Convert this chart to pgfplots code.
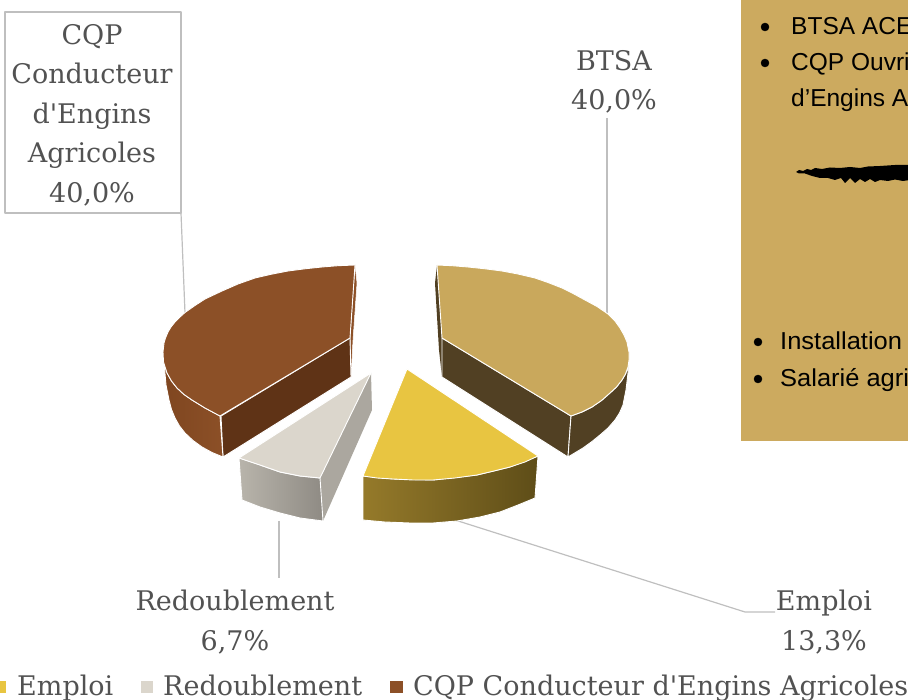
\documentclass[border=0pt]{standalone}
\usepackage{pgfplots}
\pgfplotsset{compat=1.18}
\usepackage{fontspec}
\setmainfont{Liberation Sans}
\newfontfamily\wider[FakeStretch=1.04]{Liberation Sans}
\newfontfamily\slab[FakeStretch=1.0]{DejaVu Serif}
\definecolor{lab}{HTML}{525252}
\definecolor{lead}{HTML}{BFBFBF}
\definecolor{panel}{HTML}{CCAA5F}
\definecolor{goldtop}{HTML}{C9A85C}
\definecolor{golddark}{HTML}{514023}
\definecolor{yel}{HTML}{E8C541}
\definecolor{yelA}{HTML}{957A2A}
\definecolor{yelB}{HTML}{5E4D18}
\definecolor{gry}{HTML}{DBD6CC}
\definecolor{gryA}{HTML}{B8B4AB}
\definecolor{gryB}{HTML}{8F8B84}
\definecolor{gryC}{HTML}{ABA79F}
\definecolor{brn}{HTML}{8C5027}
\definecolor{brnA}{HTML}{7F4620}
\definecolor{brndark}{HTML}{5F3316}
\tikzset{lbl/.style={font=\slab\fontsize{27}{39.5}\selectfont,text=lab,align=center,inner sep=0pt,anchor=center},
 txt/.style={font=\fontsize{24.5}{28}\selectfont,text=black,inner sep=0pt,anchor=base west}}
\begin{document}
\begin{tikzpicture}[line join=round]
\path[use as bounding box,clip] (0,0) rectangle (908pt,700pt);
\begin{axis}[at={(0,0)},anchor=south west,scale only axis,width=908pt,height=700pt,
  xmin=0,xmax=908,ymin=0,ymax=700,y dir=reverse,axis lines=none,clip=true]
% panel
\addplot[fill=panel,draw=none] coordinates {(741,-2)(910,-2)(910,441)(741,441)} --cycle;
% brush
\addplot[fill=black,draw=none] coordinates {(796,172)(799,170)(803,171)(807,169)(811,170)(815,168)(822,169)(830,167.5)(840,168)(850,167)(860,168)(868,166.5)(880,166)(895,165)(910,165)(910,180)(903,181)(895,179.5)(888,181)(880,180)(875,182)(870,179)(865,182)(860,179)(855,183)(850,178)(845,183)(841,178)(835,180)(828,178)(820,178)(812,176)(805,173.5)(799,173.5)} --cycle;
% bullets
\addplot[only marks,mark=*,mark size=4pt,mark options={fill=black,draw=none}] coordinates {(765,27)(765,63)(758,342)(758,379)};
% leaders
\addplot[lead,line width=1.2pt] coordinates {(607,118)(607,313)};
\addplot[lead,line width=1.2pt] coordinates {(181,213)(185,313)};
\addplot[lead,line width=1.2pt] coordinates {(279,521)(279,578)};
\addplot[lead,line width=1.2pt] coordinates {(455,520)(745,612)(775,612)};
\addplot[fill=white,draw=lead,line width=1.2pt] coordinates {(5,12)(181,12)(181,213)(5,213)} --cycle;
% brown slice
\addplot[fill=brn,draw=white,line width=.5pt] coordinates {(355,265)(350,338)(351,377)(353,340)(357,283)} --cycle;
\addplot[fill=brndark,draw=white,line width=.9pt] coordinates {(221,416)(350,338)(351,377)(223,457)} --cycle;
\addplot[left color=brnA,right color=brn,draw=white,line width=.9pt] coordinates {(164,362)(166,385)(169,400)(171.5,409.5)(175,418)(179.5,426)(185,433)(193,440.5)(202,447)(212,452.5)(223,457)(220,416)(205,408)(192,400)(184,394.5)(177,388)(171.5,381)(167,373)} --cycle;
\addplot[fill=brn,draw=white,line width=.9pt] coordinates {(355,265)(338,265.7)(322,267)(305,268.8)(288,271)(271,274.3)(255,278)(238,284)(222,291)(205,299)(195,305.5)(185,312.5)(180,317)(175,322)(171,327)(168,332)(165.5,338)(164,343)(163,352)(163.5,362)(167,373)(171.5,381)(177,388)(184,394.5)(192,400)(205,408)(220,416)(350,338)} --cycle;
% gold slice
\addplot[fill=golddark,draw=none] coordinates {(437,265)(435,283)(439,350)(442,377)(442,338)} --cycle;
\addplot[fill=golddark,draw=white,line width=.9pt] coordinates {(442,338)(571,416)(568,457)(442,377)} --cycle;
\addplot[fill=golddark,draw=white,line width=.9pt] coordinates {(571,416)(582,412)(592,407)(601.5,400.5)(610,393)(616.5,387)(622,380)(625.5,374)(628,367)(628,373)(626,390)(623,405)(619.5,413)(615,420)(608,428)(600,435)(592,441.5)(583,448)(568,457)} --cycle;
\addplot[fill=goldtop,draw=white,line width=.9pt] coordinates {(437,265)(452,265.7)(468,267)(485,268.8)(502,271)(518,274)(535,278)(548,282.5)(562,288)(574,294)(585,300)(597,306.5)(608,314)(615,321)(620,328)(624,335)(627,342)(629,352)(629,360)(628,367)(625.5,374)(622,380)(616.5,387)(610,393)(601.5,400.5)(592,407)(582,412)(571,416)(442,338)} --cycle;
% yellow slice
\addplot[left color=yelA,right color=yelB,draw=white,line width=.9pt] coordinates {(538,456)(535,498)(518,505)(500,512)(480,517)(457,521)(433,523)(410,523)(385,522)(363,520)(363,476)(393,479)(433,480)(477,475)(510,467)} --cycle;
\addplot[fill=yel,draw=white,line width=.9pt] coordinates {(407,369)(538,456)(525,462)(510,467)(494,471)(477,475)(455,478)(433,480)(413,480)(393,479)(377,478)(363,476)} --cycle;
% grey slice
\addplot[fill=gryC,draw=none] coordinates {(371,373)(372,410)(323,521)(320,478)} --cycle;
\addplot[left color=gryA,right color=gryB,draw=white,line width=.9pt] coordinates {(239,458)(242,500)(260,507)(280,513)(300,518)(323,521)(320,478)(300,476)(280,472)(260,465)} --cycle;
\addplot[fill=gry,draw=white,line width=.9pt] coordinates {(371,373)(320,478)(300,476)(280,472)(260,465)(239,458)} --cycle;
% legend swatches
\addplot[fill=yel,draw=none] coordinates {(-5,681)(6,681)(6,693)(-5,693)} --cycle;
\addplot[fill=gry,draw=none] coordinates {(141,681)(153,681)(153,693)(141,693)} --cycle;
\addplot[fill=brn,draw=none] coordinates {(390,681)(403,681)(403,693)(390,693)} --cycle;
% labels
\node[lbl] at (axis cs:92,115) {CQP\\Conducteur\\d'Engins\\Agricoles\\40,0\%};
\node[lbl] at (axis cs:614,82) {BTSA\\40,0\%};
\node[lbl] at (axis cs:235,622) {Redoublement\\6,7\%};
\node[lbl] at (axis cs:824,622) {Emploi\\13,3\%};
\node[lbl,anchor=base west] at (axis cs:17,695) {Emploi};
\node[lbl,anchor=base west] at (axis cs:163,695) {Redoublement};
\node[lbl,anchor=base west] at (axis cs:413,695) {CQP Conducteur d'Engins Agricoles};
\node[txt] at (axis cs:791,35) {BTSA ACE};
\node[txt] at (axis cs:791,71) {CQP Ouvri};
\node[txt] at (axis cs:791,107) {d'Engins A};
\node[txt,font=\wider\fontsize{24.5}{28}\selectfont] at (axis cs:780,350) {Installation};
\node[txt,font=\wider\fontsize{24.5}{28}\selectfont] at (axis cs:780,387) {Salarié agri};
\end{axis}
\end{tikzpicture}
\end{document}
